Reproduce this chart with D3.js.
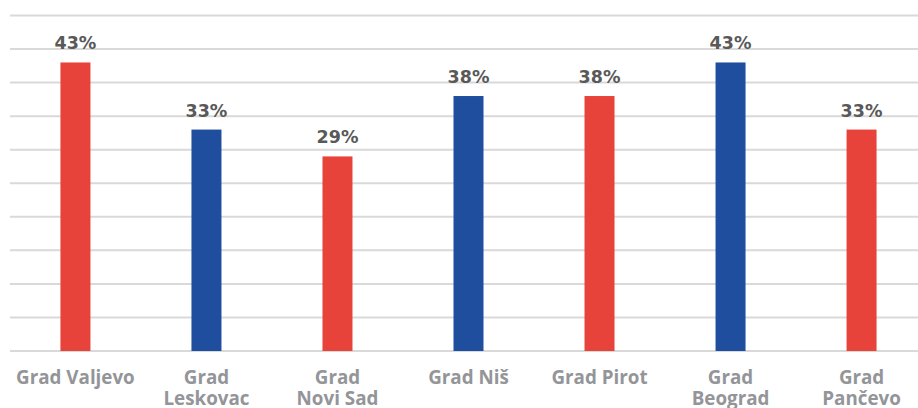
<!DOCTYPE html>
<html><head><meta charset="utf-8">
<script src="https://cdn.jsdelivr.net/npm/d3@7"></script>
<style>body{margin:0;background:#fff}svg{display:block}</style>
</head><body>
<script>
const categories = [["Grad Valjevo"],["Grad","Leskovac"],["Grad","Novi Sad"],["Grad Niš"],["Grad Pirot"],["Grad","Beograd"],["Grad","Pančevo"]];
const values = [43, 33, 29, 38, 38, 43, 33];
const colors = ["#e8433b","#1f4e9f","#e8433b","#1f4e9f","#e8433b","#1f4e9f","#e8433b"];
const gridTicks = [0,5,10,15,20,25,30,35,40,45,50];

const W = 918, H = 408;
const svg = d3.select("body").append("svg").attr("width", W).attr("height", H);
const x = d3.scaleBand().domain(d3.range(categories.length)).range([10, 927]).paddingInner(0.771).paddingOuter(0.385);
const y = d3.scaleLinear().domain([0, 50]).range([351, 15.5]);

svg.append("g").selectAll("line").data(gridTicks).join("line")
  .attr("x1", 10).attr("x2", W).attr("y1", d => y(d)).attr("y2", d => y(d))
  .attr("stroke", "#d9d9d9").attr("stroke-width", 2);

svg.append("g").selectAll("rect").data(values).join("rect")
  .attr("x", (d,i) => x(i)).attr("width", x.bandwidth())
  .attr("y", d => y(d)).attr("height", d => y(0) - y(d))
  .attr("fill", (d,i) => colors[i]);

svg.append("g").selectAll("text").data(values).join("text")
  .attr("x", (d,i) => x(i) + x.bandwidth()/2).attr("y", d => y(d) - 13)
  .attr("text-anchor", "middle").attr("font-family", "DejaVu Sans").attr("font-weight", "bold")
  .attr("font-size", 17.5).attr("fill", "#595959").text(d => d + "%");

const lab = svg.append("g").selectAll("text").data(categories).join("text")
  .attr("text-anchor", "middle").attr("font-family", "Open Sans").attr("font-weight", "bold")
  .attr("font-size", 18.8).attr("fill", "#939598");
lab.each(function(lines, i) {
  const t = d3.select(this);
  lines.forEach((s, j) => t.append("tspan").attr("x", x(i) + x.bandwidth()/2).attr("y", 384 + j*21).text(s));
});
</script>
</body></html>
